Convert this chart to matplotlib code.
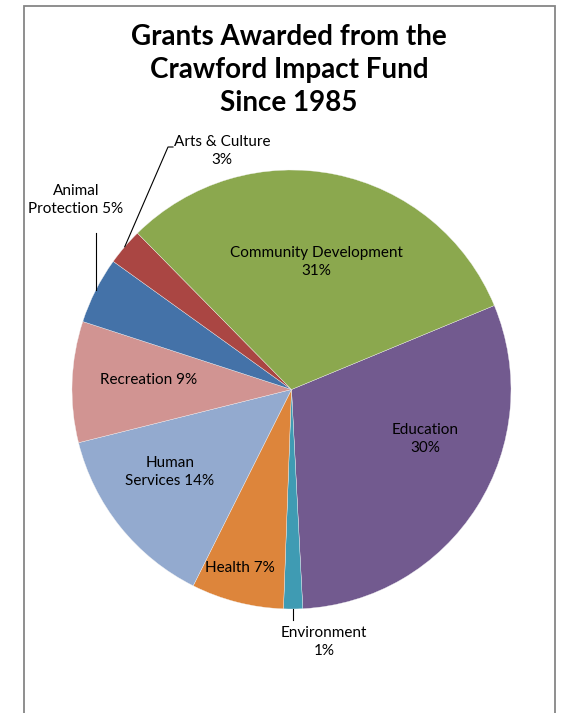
import matplotlib
matplotlib.use("Agg")
import matplotlib.pyplot as plt
import numpy as np
from matplotlib.patches import Rectangle

plt.rcParams['font.family'] = ['Lato', 'DejaVu Sans']

# shares (clockwise from the right side)
categories = ["Education", "Environment", "Health", "Human Services",
              "Recreation", "Animal Protection", "Arts & Culture",
              "Community Development"]
shares = [30.4, 1.4, 6.8, 13.7, 8.9, 4.9, 2.7, 31.1]
label_texts = ["Education\n30%", "Environment\n1%", "Health 7%",
               "Human\nServices 14%", "Recreation 9%", "Animal\nProtection 5%",
               "Arts & Culture\n3%", "Community Development\n31%"]
colors = ["#725A8F", "#3F9BB3", "#DD853B", "#93AACF",
          "#D19492", "#4472A8", "#AA4643", "#8BA84E"]

W, H = 562, 713

def Y(y):
    # picture rows -> axes units (y up)
    return H - y

fig = plt.figure(figsize=(W / 100, H / 100), dpi=100)
ax = fig.add_axes([0, 0, 1, 1])

cx, cy, R = 291.5, Y(389.5), 219.5
wedges, _ = ax.pie(shares, colors=colors, startangle=22.5, counterclock=False,
                   center=(cx, cy), radius=R, frame=True,
                   wedgeprops=dict(edgecolor="#f4f4f4", linewidth=0.25))
ax.set_xlim(0, W)
ax.set_ylim(0, H)
ax.set_aspect("auto")
ax.axis("off")

# chart area border
ax.add_patch(Rectangle((24, Y(720)), 555 - 24, 720 - 6, fill=False,
                       edgecolor="#868686", linewidth=1.3, zorder=5))

ax.text(289, Y(70), "Grants Awarded from the\nCrawford Impact Fund\nSince 1985",
        ha="center", va="center", fontsize=20, fontweight="bold",
        linespacing=1.32, color="#000000")

# label layout (picture pixels)
label_pos = {
    "Education": (425, 439),
    "Environment": (324, 642),
    "Health": (240, 568),
    "Human Services": (170, 472),
    "Recreation": (149, 380),
    "Animal Protection": (76, 200),
    "Arts & Culture": (222, 151),
    "Community Development": (316, 262),
}
for name, txt in zip(categories, label_texts):
    x, y = label_pos[name]
    ax.text(x, Y(y), txt, ha="center", va="center", fontsize=11,
            linespacing=1.38, color="#000000", zorder=6)

# leader lines from the wedge mid-angle on the rim
def rim(w):
    a = np.deg2rad((w.theta1 + w.theta2) / 2)
    return cx + R * np.cos(a), cy + R * np.sin(a)

w = dict(zip(categories, wedges))
x0, y0 = rim(w["Animal Protection"])
ax.plot([x0, x0], [y0, Y(233)], color="black", lw=0.8)
x0, y0 = rim(w["Arts & Culture"])
ax.plot([x0, 168, 173], [y0, Y(147), Y(147)], color="black", lw=0.8)
x0, y0 = rim(w["Environment"])
ax.plot([x0, x0], [y0, Y(620)], color="black", lw=0.8)

fig.savefig("out.png", dpi=100)
